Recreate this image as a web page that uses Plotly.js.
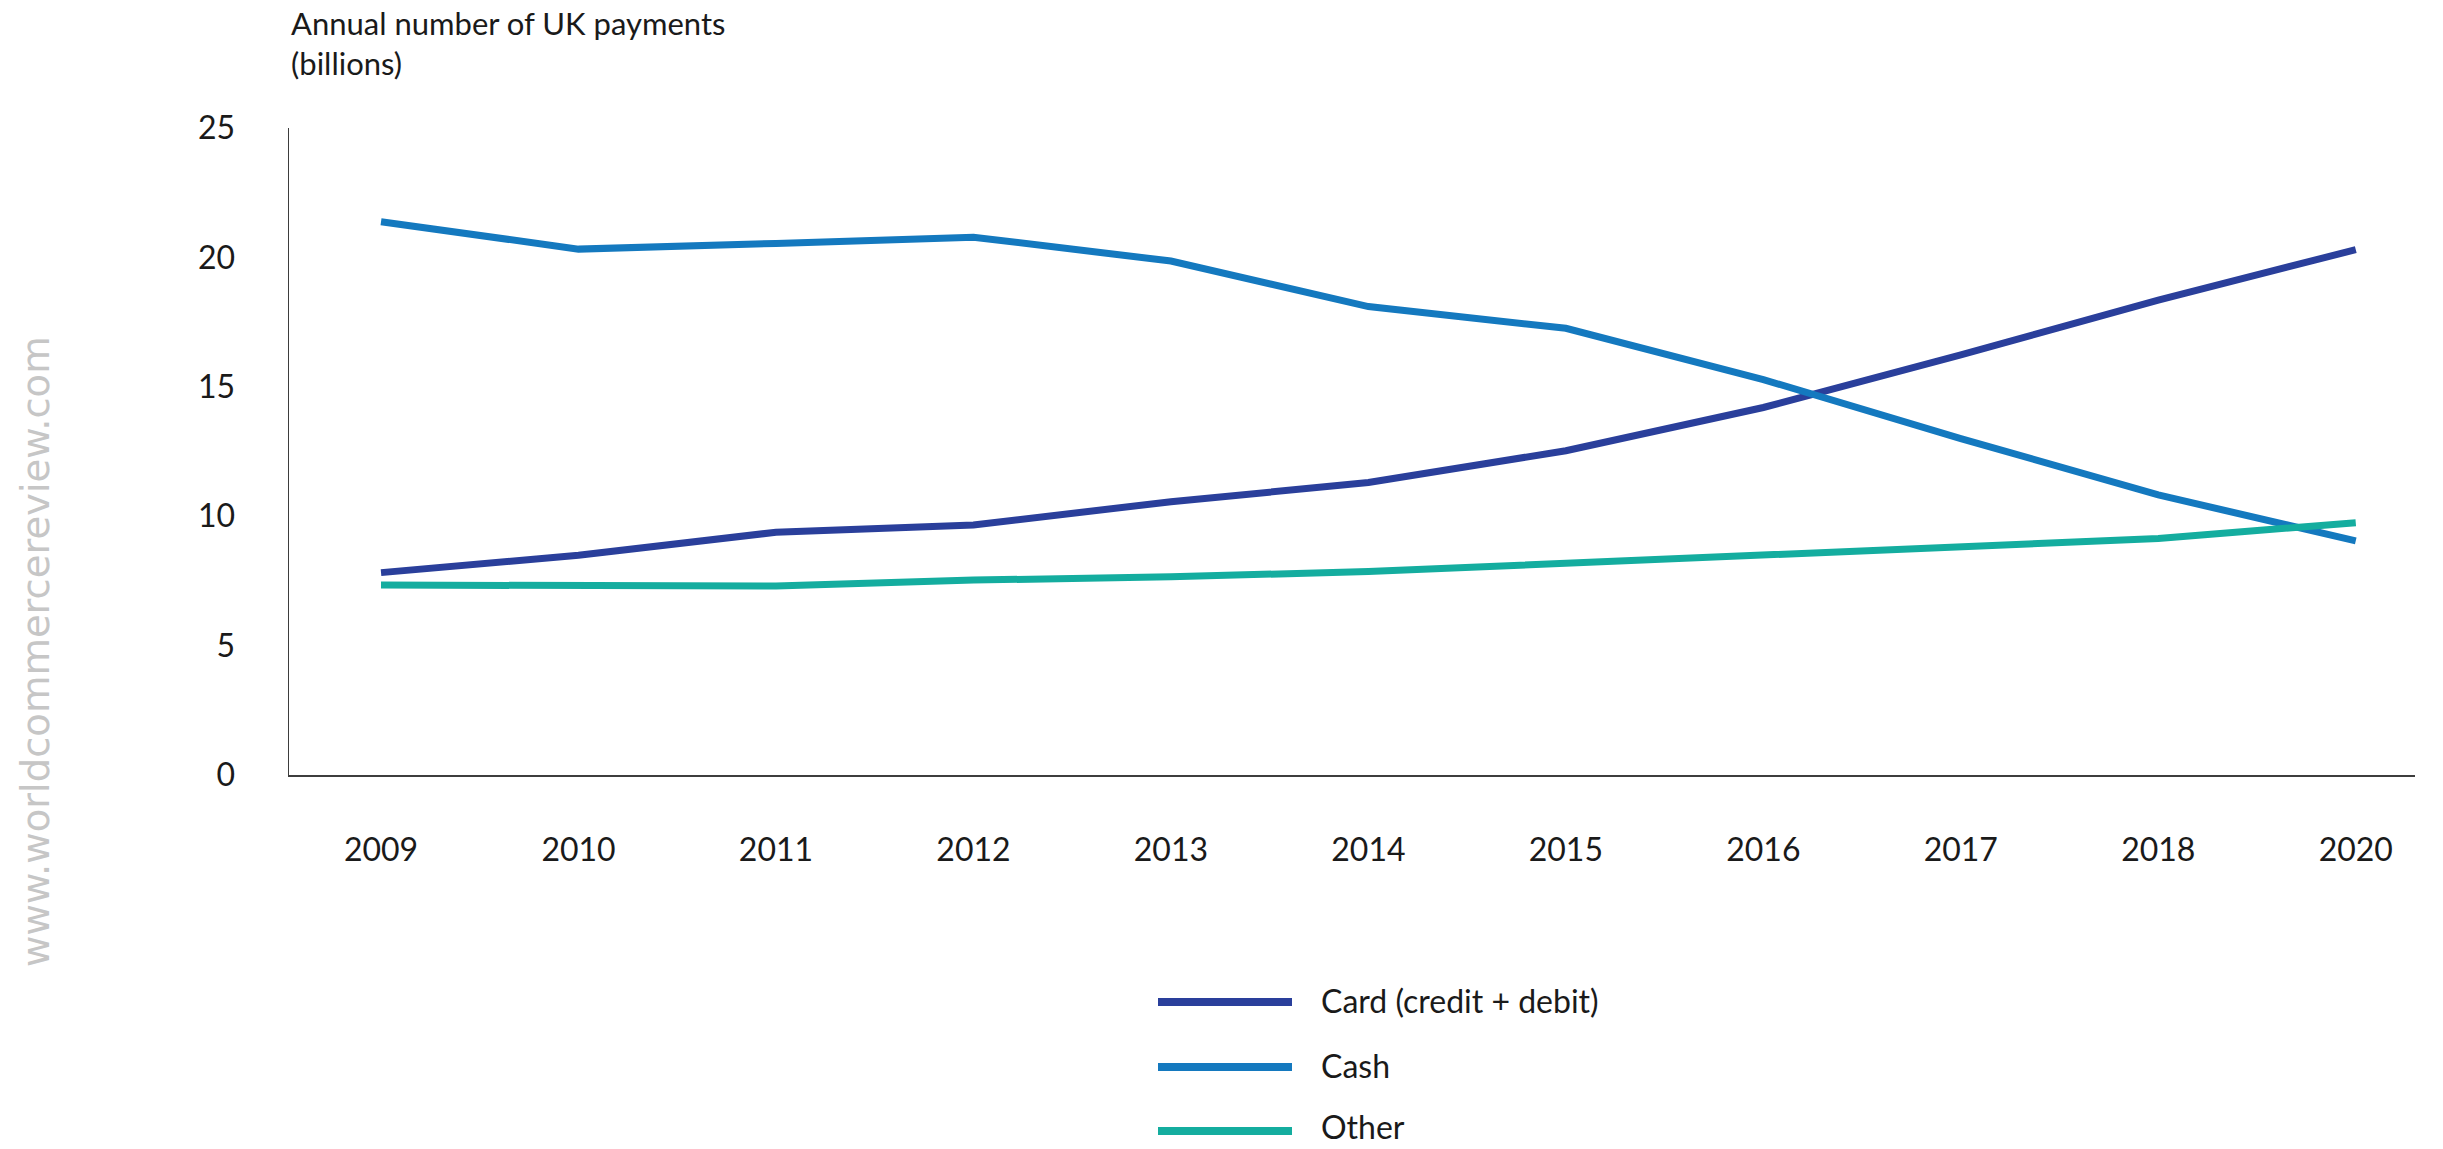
<!DOCTYPE html>
<html>
<head>
<meta charset="utf-8">
<script src="https://cdn.plot.ly/plotly-3.0.1.min.js"></script>
<style>
  html, body { margin: 0; padding: 0; background: #ffffff; }
  #chart { width: 2443px; height: 1149px; }
</style>
</head>
<body>
<div id="chart"></div>
<script>
// ---- Data ----
const years = ['2009', '2010', '2011', '2012', '2013', '2014', '2015', '2016', '2017', '2018', '2020'];
const cardValues  = [7.82, 8.49, 9.38, 9.66, 10.56, 11.3, 12.53, 14.2, 16.23, 18.35, 20.3];
const cashValues  = [21.38, 20.32, 20.54, 20.78, 19.86, 18.1, 17.26, 15.28, 13.0, 10.82, 9.05];
const otherValues = [7.34, 7.33, 7.3, 7.53, 7.66, 7.86, 8.18, 8.5, 8.76, 9.14, 9.75];
const seriesNames = ['Card (credit + debit)', 'Cash', 'Other'];
const seriesColors = ['#2a3f9b', '#1479bf', '#14ad9f'];
const yTicks = [0, 5, 10, 15, 20, 25];
const chartTitle = 'Annual number of UK payments<br>(billions)';
const watermark = 'www.worldcommercereview.com';

const FONT = 'Lato, "Open Sans", sans-serif';
const W = 2443, H = 1149;
const M = { l: 289, r: 28, t: 128, b: 374 };
const plotW = W - M.l - M.r, plotH = H - M.t - M.b;
const px2x = px => (px - M.l) / plotW;
const py2y = py => (H - M.b - py) / plotH;

const allValues = [cardValues, cashValues, otherValues];
const traces = allValues.map((vals, i) => ({
  type: 'scatter',
  mode: 'lines',
  x: years,
  y: vals,
  name: seriesNames[i],
  line: { color: seriesColors[i], width: 7 },
  showlegend: false,
  hoverinfo: 'skip'
}));

// custom legend (long line samples like the reference)
const legendLineRows = [1002, 1067, 1131];
const legendTextRows = [1000, 1065, 1126];
const shapes = [];
const annotations = [];
seriesNames.forEach((name, i) => {
  shapes.push({
    type: 'line', xref: 'paper', yref: 'paper',
    x0: px2x(1158), x1: px2x(1292),
    y0: py2y(legendLineRows[i]), y1: py2y(legendLineRows[i]),
    line: { color: seriesColors[i], width: 8 }
  });
  annotations.push({
    xref: 'paper', yref: 'paper',
    x: px2x(1320), y: py2y(legendTextRows[i]),
    xanchor: 'left', yanchor: 'middle',
    text: name, showarrow: false, borderpad: 0,
    font: { family: FONT, size: 32, color: '#1a1a1a' }
  });
});
// title (two lines, left aligned above the y axis)
annotations.push({
  xref: 'paper', yref: 'paper',
  x: px2x(290), y: py2y(3),
  xanchor: 'left', yanchor: 'top', align: 'left',
  text: chartTitle, showarrow: false, borderpad: 0,
  font: { family: FONT, size: 31, color: '#1a1a1a' }
});
// watermark
annotations.push({
  xref: 'paper', yref: 'paper',
  x: px2x(35), y: py2y(652),
  xanchor: 'center', yanchor: 'middle',
  text: watermark, textangle: -90, showarrow: false,
  font: { family: '"DejaVu Sans", sans-serif', size: 38.5, color: '#c6c6c6' }
});

const layout = {
  width: W, height: H,
  margin: M,
  paper_bgcolor: '#ffffff',
  plot_bgcolor: '#ffffff',
  font: { family: FONT, size: 32, color: '#1a1a1a' },
  xaxis: {
    type: 'category',
    range: [-0.466, 10.3],
    showgrid: false, zeroline: false,
    showline: true, linecolor: '#3d3d3d', linewidth: 2,
    ticks: '', ticklabelstandoff: 46,
    tickfont: { family: FONT, size: 32, color: '#1a1a1a' },
    fixedrange: true
  },
  yaxis: {
    range: [0, 25],
    tickvals: yTicks,
    ticktext: yTicks.map(String),
    showgrid: false, zeroline: false,
    showline: true, linecolor: '#3d3d3d', linewidth: 1.5,
    ticks: '', ticklabelstandoff: 46,
    tickfont: { family: FONT, size: 32, color: '#1a1a1a' },
    fixedrange: true
  },
  shapes: shapes,
  annotations: annotations,
  showlegend: false
};

Plotly.newPlot('chart', traces, layout, { staticPlot: true, displayModeBar: false });
</script>
</body>
</html>
